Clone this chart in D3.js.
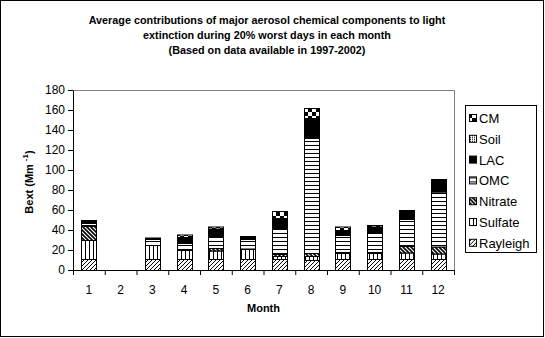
<!DOCTYPE html>
<html><head><meta charset="utf-8">
<script src="https://cdn.jsdelivr.net/npm/d3@7/dist/d3.min.js"></script>
<style>
html,body{margin:0;padding:0;background:#fff;}
svg{display:block;font-family:Arial,"Liberation Sans",sans-serif;}
</style></head>
<body><svg id="c" width="545" height="338"></svg>
<script>
const months = ["1","2","3","4","5","6","7","8","9","10","11","12"];
const rayleigh = [11,0,11,11,11,11,11,10,11,11,11,11];
const sulfate  = [19,0,14,9,8.5,10,3,4,6,6,6.5,5.5];
const nitrate  = [14,0,0,1,2.5,0.5,2,3,1,1,6.5,7];
const omc      = [3,0,6,6,11.5,9.5,26,115,17,20,27,55];
const lac      = [3,0,1.5,6,8,3,10,20,5,5.5,9,12.5];
const soil     = [0,0,0,0,0,0,0,0,0,0,0,0];
const cm       = [0,0,0,2.5,2,0,7,10,3.5,1.5,0,0];
const seriesNames = ["Rayleigh","Sulfate","Nitrate","OMC","LAC","Soil","CM"];
const yTicks = [0,20,40,60,80,100,120,140,160,180];
const titleLines = ["Average contributions of major aerosol chemical components to light",
  "extinction during 20% worst days in each month",
  "(Based on data available in 1997-2002)"];

const seriesVals = [rayleigh,sulfate,nitrate,omc,lac,soil,cm];
const rows = months.map((m,i)=>{const r={month:m};seriesNames.forEach((s,k)=>r[s]=seriesVals[k][i]);return r;});

const svg = d3.select("#c");
const L=73, R=454, T=90, B=270;

// patterns
const defs = svg.append("defs");
function pat(id,w,h){return defs.append("pattern").attr("id",id).attr("patternUnits","userSpaceOnUse").attr("width",w).attr("height",h);}
let p;
p=pat("p-Rayleigh",4,4); p.append("rect").attr("width",4).attr("height",4).attr("fill","#fff");
p.append("path").attr("d","M-1,1 l2,-2 M0,4 l4,-4 M3,5 l2,-2").attr("stroke","#000").attr("stroke-width",1);
p=pat("p-Sulfate",4,4); p.append("rect").attr("width",4).attr("height",4).attr("fill","#fff");
p.append("rect").attr("x",1).attr("width",1).attr("height",4).attr("fill","#000");
p=pat("p-Nitrate",4,4); p.append("rect").attr("width",4).attr("height",4).attr("fill","#fff");
p.append("path").attr("d","M-1,3 l2,2 M0,0 l4,4 M3,-1 l2,2").attr("stroke","#000").attr("stroke-width",1.6);
p=pat("p-OMC",4,4); p.append("rect").attr("width",4).attr("height",4).attr("fill","#fff");
p.append("rect").attr("y",1).attr("width",4).attr("height",1).attr("fill","#000");
p=pat("p-Soil",2,2); p.append("rect").attr("width",2).attr("height",2).attr("fill","#fff");
p.append("rect").attr("width",1).attr("height",1).attr("fill","#000");
p=pat("p-CM",8,8); p.append("rect").attr("width",8).attr("height",8).attr("fill","#fff");
p.append("rect").attr("width",4).attr("height",4).attr("fill","#000");
p.append("rect").attr("x",4).attr("y",4).attr("width",4).attr("height",4).attr("fill","#000");
const fillOf = s => s==="LAC" ? "#000" : `url(#p-${s})`;

// outer border
svg.append("rect").attr("x",0.5).attr("y",0.5).attr("width",543).attr("height",336)
  .attr("fill","none").attr("stroke","#000");

// title
svg.append("g").selectAll("text").data(titleLines).join("text")
  .attr("x",267).attr("y",(d,i)=>24+i*15).attr("text-anchor","middle")
  .attr("font-size",10.8).attr("font-weight","bold").text(d=>d);

const x = d3.scaleBand().domain(months).range([L,R]).paddingInner(110/210).paddingOuter(55/210);
const xb = d3.scaleLinear().domain([0,months.length]).range([L,R]);
const y = d3.scaleLinear().domain([0,180]).range([B,T]);

// plot border (gray) top & right
svg.append("path").attr("d",`M${L},${T+0.5}H${R+0.5}V${B}`).attr("fill","none").attr("stroke","#808080");

const stack = d3.stack().keys(seriesNames)(rows);
const g = svg.append("g");
stack.forEach(layer=>{
  g.append("g").selectAll("rect").data(layer.filter(d=>d[1]-d[0]>0)).join("rect")
    .attr("x",d=>Math.round(x(d.data.month))+0.5)
    .attr("width",Math.round(x.bandwidth()))
    .attr("y",d=>y(d[1])+0.5)
    .attr("height",d=>y(d[0])-y(d[1]))
    .attr("fill",fillOf(layer.key)).attr("stroke","#000").attr("stroke-width",1);
});

// y axis
const ya = svg.append("g").attr("transform",`translate(${L},0)`)
  .call(d3.axisLeft(y).tickValues(yTicks).tickSize(5).tickSizeOuter(0).tickPadding(3));
ya.selectAll("text").attr("font-size",12).attr("font-family","Arial,'Liberation Sans',sans-serif").attr("fill","#000");
ya.selectAll("line,path").attr("stroke","#000");

// x axis boundary ticks
const xa = svg.append("g").attr("transform",`translate(0,${B})`)
  .call(d3.axisBottom(xb).tickValues(d3.range(months.length+1)).tickSize(5).tickSizeOuter(0).tickFormat(""));
xa.selectAll("line,path").attr("stroke","#000");
svg.append("g").selectAll("text").data(months).join("text")
  .attr("x",d=>x(d)+x.bandwidth()/2).attr("y",294).attr("text-anchor","middle")
  .attr("font-size",12).text(d=>d);

// axis titles
svg.append("text").attr("x",(L+R)/2).attr("y",312).attr("text-anchor","middle")
  .attr("font-size",11).attr("font-weight","bold").text("Month");
const yt = svg.append("text").attr("transform","translate(33,182) rotate(-90)")
  .attr("text-anchor","middle").attr("font-size",11).attr("font-weight","bold");
yt.append("tspan").text("Bext (Mm ");
yt.append("tspan").attr("font-size",8).attr("dy",-5).text("-1");
yt.append("tspan").attr("dy",5).text(")");

// legend
const lg = svg.append("g");
lg.append("rect").attr("x",465.5).attr("y",105.5).attr("width",71).attr("height",147)
  .attr("fill","#fff").attr("stroke","#000");
const legItems = seriesNames.slice().reverse();
const li = lg.selectAll("g.li").data(legItems).join("g").attr("class","li")
  .attr("transform",(d,i)=>`translate(0,${118+i*20.8})`);
li.append("rect").attr("x",469.5).attr("y",-3.5).attr("width",7).attr("height",7)
  .attr("fill",d=>fillOf(d)).attr("stroke","#000");
li.append("text").attr("x",479).attr("y",5).attr("font-size",13).text(d=>d);
</script></body></html>
